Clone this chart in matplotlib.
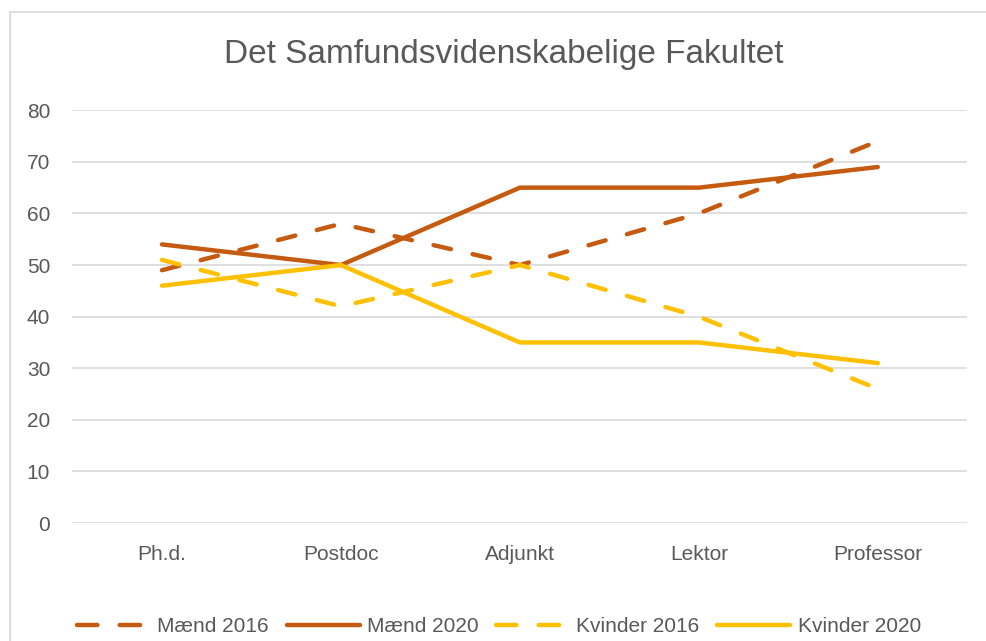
import matplotlib.pyplot as plt
from matplotlib.patches import Rectangle

# Data
stillinger = ['Ph.d.', 'Postdoc', 'Adjunkt', 'Lektor', 'Professor']
maend_2016 = [49, 58, 50, 60, 74]
maend_2020 = [54, 50, 65, 65, 69]
kvinder_2016 = [51, 42, 50, 40, 26]
kvinder_2020 = [46, 50, 35, 35, 31]
y_ticks = [0, 10, 20, 30, 40, 50, 60, 70, 80]

orange = '#C55A11'
gul = '#FFC000'
tekst = '#595959'
gitter = '#D9D9D9'

plt.rcParams['font.family'] = ['Liberation Sans', 'DejaVu Sans']

fig = plt.figure(figsize=(9.86, 6.41), dpi=100)
ax = fig.add_axes([0.0735, 0.184, 0.9075, 0.644])

# chart border like in Excel (right/bottom edges are cut off)
fig.patches.append(Rectangle((10 / 986, -0.05), 1.1, 1.05 - 12 / 641,
                             transform=fig.transFigure, fill=False,
                             edgecolor=gitter, linewidth=1.2))

x = range(len(stillinger))
lw = 3.2
dash = (0, (4.0, 5.0))
ax.plot(x, maend_2016, color=orange, lw=lw, linestyle=dash,
        dash_capstyle='round', label='Mænd 2016')
ax.plot(x, maend_2020, color=orange, lw=lw, solid_capstyle='round',
        solid_joinstyle='round', label='Mænd 2020')
ax.plot(x, kvinder_2016, color=gul, lw=lw, linestyle=dash,
        dash_capstyle='round', label='Kvinder 2016')
ax.plot(x, kvinder_2020, color=gul, lw=lw, solid_capstyle='round',
        solid_joinstyle='round', label='Kvinder 2020')

ax.set_xlim(-0.5, len(stillinger) - 0.5)
ax.set_ylim(0, 80)
ax.set_yticks(y_ticks)
ax.set_xticks(list(x))
ax.set_xticklabels(stillinger)
ax.tick_params(length=0, labelsize=15, colors=tekst)
ax.tick_params(axis='y', pad=16)
ax.tick_params(axis='x', pad=16)
ax.grid(axis='y', color=gitter, lw=1.2)
ax.set_axisbelow(True)
for s in ax.spines.values():
    s.set_visible(False)

fig.text(504 / 986, 1 - 54 / 641, 'Det Samfundsvidenskabelige Fakultet',
         ha='center', va='center', fontsize=24, color=tekst)

leg = fig.legend(loc='center', bbox_to_anchor=(499 / 986, 14 / 641), ncol=4,
                 frameon=False, fontsize=15, handlelength=3.5,
                 handletextpad=0.35, columnspacing=0.85, labelcolor=tekst)
# two dashes per legend sample, the second one ending at the text
for line in leg.get_lines():
    if line.get_linestyle() != '-':
        line.set_linestyle((0, (4.6, 5.0)))

fig.savefig('out.png', dpi=100)
